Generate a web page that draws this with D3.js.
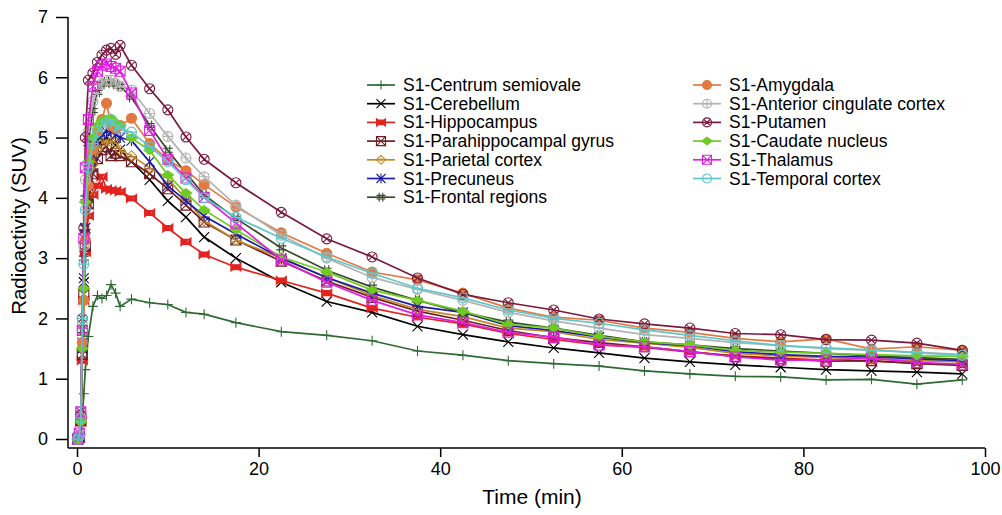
<!DOCTYPE html>
<html>
<head>
<meta charset="utf-8">
<script src="https://cdn.jsdelivr.net/npm/d3@7/dist/d3.min.js"></script>
<style>
  body { margin: 0; background: #fff; }
  svg text { font-family: "Liberation Sans", Arial, Helvetica, sans-serif; fill: #000; }
</style>
</head>
<body>
<div id="chart"></div>
<script>
// Frame mid-times (min)
const times = [0.083, 0.25, 0.417, 0.583, 0.75, 0.917, 1.25, 1.75, 2.25, 2.75, 3.25, 3.75, 4.25, 4.75,
  6, 8, 10, 12, 14, 17.5, 22.5, 27.5, 32.5, 37.5, 42.5, 47.5, 52.5, 57.5, 62.5, 67.5, 72.5, 77.5, 82.5, 87.5, 92.5, 97.5]

const centrum = [0.0, 0.02, 0.08, 0.35, 0.75, 1.15, 1.7, 2.2, 2.38, 2.33, 2.38, 2.56, 2.42, 2.2,
  2.32, 2.26, 2.23, 2.1, 2.07, 1.93, 1.78, 1.72, 1.63, 1.46, 1.39, 1.3, 1.25, 1.21, 1.13, 1.08, 1.04, 1.03, 0.98, 0.99, 0.91, 0.98]
const cerebellum = [0.0, 0.03, 0.3, 1.5, 2.6, 3.4, 4.0, 4.5, 4.8, 4.95, 5.0, 4.95, 4.88, 4.8,
  4.6, 4.3, 3.95, 3.68, 3.35, 3.0, 2.6, 2.28, 2.1, 1.87, 1.73, 1.61, 1.51, 1.43, 1.34, 1.28, 1.23, 1.19, 1.15, 1.13, 1.11, 1.08]
const hippocampus = [0.0, 0.04, 0.3, 1.3, 2.3, 3.1, 3.7, 4.05, 4.2, 4.35, 4.15, 4.13, 4.12, 4.1,
  3.99, 3.75, 3.5, 3.27, 3.06, 2.85, 2.63, 2.42, 2.17, 2.02, 1.91, 1.75, 1.65, 1.56, 1.52, 1.44, 1.38, 1.34, 1.31, 1.29, 1.26, 1.23]
const parahippocampal = [0.0, 0.03, 0.3, 1.4, 2.4, 3.2, 3.9, 4.4, 4.65, 4.8, 4.85, 4.7, 4.74, 4.7,
  4.6, 4.4, 4.15, 3.88, 3.6, 3.3, 2.95, 2.62, 2.35, 2.12, 1.97, 1.8, 1.68, 1.6, 1.53, 1.45, 1.37, 1.33, 1.29, 1.3, 1.25, 1.22]
const parietal = [0.0, 0.03, 0.3, 1.5, 2.5, 3.4, 4.1, 4.55, 4.8, 4.9, 4.95, 4.93, 4.93, 4.79,
  4.7, 4.5, 4.32, 3.98, 3.62, 3.3, 3.0, 2.68, 2.38, 2.15, 2.03, 1.84, 1.78, 1.65, 1.59, 1.52, 1.42, 1.38, 1.35, 1.33, 1.3, 1.28]
const precuneus = [0.0, 0.03, 0.35, 1.6, 2.67, 3.5, 4.2, 4.7, 4.95, 5.05, 5.1, 5.1, 5.05, 5.0,
  4.95, 4.6, 4.2, 3.95, 3.7, 3.4, 3.0, 2.68, 2.42, 2.2, 2.1, 1.88, 1.8, 1.69, 1.6, 1.55, 1.45, 1.4, 1.37, 1.36, 1.33, 1.3]
const frontal = [0.0, 0.05, 0.4, 1.8, 3.0, 4.0, 4.9, 5.45, 5.75, 5.88, 5.92, 5.9, 5.88, 5.85,
  5.67, 5.2, 4.79, 4.41, 4.05, 3.66, 3.17, 2.8, 2.52, 2.3, 2.1, 1.94, 1.84, 1.72, 1.61, 1.56, 1.5, 1.46, 1.42, 1.38, 1.35, 1.32]
const amygdala = [0.0, 0.05, 0.4, 1.6, 2.3, 3.3, 4.2, 4.8, 5.1, 5.3, 5.57, 5.2, 5.15, 5.2,
  5.32, 4.9, 4.63, 4.45, 4.22, 3.85, 3.42, 3.08, 2.77, 2.64, 2.42, 2.17, 2.02, 1.97, 1.84, 1.77, 1.67, 1.61, 1.66, 1.49, 1.53, 1.47]
const cingulate = [0.0, 0.05, 0.45, 1.9, 3.2, 4.3, 5.1, 5.6, 5.8, 5.9, 5.95, 5.95, 5.9, 5.85,
  5.79, 5.4, 5.02, 4.66, 4.35, 3.88, 3.38, 3.0, 2.68, 2.48, 2.3, 2.1, 1.96, 1.84, 1.73, 1.67, 1.6, 1.55, 1.5, 1.47, 1.44, 1.4]
const putamen = [0.0, 0.05, 0.4, 2.0, 3.5, 5.0, 5.95, 6.07, 6.25, 6.37, 6.45, 6.48, 6.38, 6.53,
  6.2, 5.81, 5.46, 5.01, 4.64, 4.25, 3.76, 3.32, 3.02, 2.67, 2.4, 2.26, 2.14, 1.99, 1.91, 1.84, 1.75, 1.73, 1.65, 1.64, 1.59, 1.47]
const caudate = [0.0, 0.05, 0.28, 1.5, 2.5, 3.93, 4.6, 5.0, 5.2, 5.28, 5.3, 5.32, 5.25, 5.2,
  4.99, 4.79, 4.38, 4.08, 3.8, 3.47, 3.02, 2.77, 2.47, 2.3, 2.12, 1.9, 1.84, 1.7, 1.61, 1.56, 1.47, 1.44, 1.42, 1.4, 1.38, 1.37]
const thalamus = [0.0, 0.1, 0.45, 1.8, 3.33, 4.5, 5.3, 5.85, 6.1, 6.2, 6.22, 6.18, 6.15, 6.1,
  5.74, 5.12, 4.64, 4.33, 4.01, 3.58, 2.97, 2.6, 2.3, 2.06, 1.93, 1.77, 1.69, 1.56, 1.53, 1.45, 1.36, 1.31, 1.31, 1.34, 1.27, 1.24]
const temporal = [0.0, 0.05, 0.35, 2.0, 2.9, 3.8, 4.5, 4.9, 5.1, 5.2, 5.25, 5.3, 5.2, 5.15,
  5.09, 4.85, 4.6, 4.3, 4.0, 3.68, 3.33, 3.02, 2.75, 2.5, 2.34, 2.14, 2.0, 1.92, 1.81, 1.72, 1.63, 1.55, 1.51, 1.48, 1.43, 1.39]

const names = ["S1-Centrum semiovale", "S1-Cerebellum", "S1-Hippocampus", "S1-Parahippocampal gyrus",
  "S1-Parietal cortex", "S1-Precuneus", "S1-Frontal regions", "S1-Amygdala", "S1-Anterior cingulate cortex",
  "S1-Putamen", "S1-Caudate nucleus", "S1-Thalamus", "S1-Temporal cortex"]
const values = [centrum, cerebellum, hippocampus, parahippocampal, parietal, precuneus, frontal,
  amygdala, cingulate, putamen, caudate, thalamus, temporal]
const colors = ["#2f6a33", "#000000", "#e3231f", "#6e1f24", "#c48a22", "#1c1ca8", "#3b4a2a",
  "#e17a42", "#b3b3b3", "#7a1a3e", "#6fca22", "#e020e0", "#5fc6c9"]
const markers = ["plus", "cross", "bowtie", "sqhour", "diamond", "star", "hash",
  "disc", "circplus", "circx", "fdiamond", "sqx", "circbar"]

const xTicks = [0, 20, 40, 60, 80, 100]
const yTicks = [0, 1, 2, 3, 4, 5, 6, 7]

const W = 1002, H = 515

const svg = d3.select("#chart").append("svg")
  .attr("width", W).attr("height", H)

const x = d3.scaleLinear().domain([0, 100]).range([77, 985])
const y = d3.scaleLinear().domain([0, 7]).range([439, 17])

// marker shapes, r = half size
function markerPath(type, r) {
  const p = d3.path()
  const circ = () => { p.moveTo(r, 0); p.arc(0, 0, r, 0, 2 * Math.PI) }
  if (type === "plus") {
    p.moveTo(-r, 0); p.lineTo(r, 0); p.moveTo(0, -r); p.lineTo(0, r)
  } else if (type === "cross") {
    p.moveTo(-r, -r); p.lineTo(r, r); p.moveTo(-r, r); p.lineTo(r, -r)
  } else if (type === "bowtie") {
    p.moveTo(-r, -r * 0.8); p.lineTo(r, r * 0.8); p.lineTo(r, -r * 0.8); p.lineTo(-r, r * 0.8); p.closePath()
    p.moveTo(-r * 0.5, -r * 0.5); p.lineTo(r * 0.5, -r * 0.5); p.lineTo(r * 0.5, r * 0.5); p.lineTo(-r * 0.5, r * 0.5); p.closePath()
  } else if (type === "sqhour") {
    p.rect(-r, -r, 2 * r, 2 * r)
    p.moveTo(-r, -r); p.lineTo(r, r); p.lineTo(-r, r); p.lineTo(r, -r)
  } else if (type === "diamond") {
    p.moveTo(0, -r); p.lineTo(r, 0); p.lineTo(0, r); p.lineTo(-r, 0); p.closePath()
    p.moveTo(0, -r * 0.4); p.lineTo(0, r * 0.4)
  } else if (type === "star") {
    p.moveTo(-r, -r); p.lineTo(r, r); p.moveTo(-r, r); p.lineTo(r, -r)
    p.moveTo(0, -r * 1.1); p.lineTo(0, r * 1.1)
  } else if (type === "hash") {
    const a = r * 0.4
    p.moveTo(-a, -r); p.lineTo(-a, r); p.moveTo(a, -r); p.lineTo(a, r)
    p.moveTo(-r, -a); p.lineTo(r, -a); p.moveTo(-r, a); p.lineTo(r, a)
  } else if (type === "disc") {
    circ()
  } else if (type === "circplus") {
    circ(); p.moveTo(-r, 0); p.lineTo(r, 0); p.moveTo(0, -r); p.lineTo(0, r)
  } else if (type === "circx") {
    circ(); const a = r * 0.7
    p.moveTo(-a, -a); p.lineTo(a, a); p.moveTo(-a, a); p.lineTo(a, -a)
  } else if (type === "fdiamond") {
    p.moveTo(0, -r * 0.85); p.lineTo(r * 1.15, 0); p.lineTo(0, r * 0.85); p.lineTo(-r * 1.15, 0); p.closePath()
  } else if (type === "sqx") {
    p.rect(-r, -r, 2 * r, 2 * r)
    p.moveTo(-r, -r); p.lineTo(r, r); p.moveTo(-r, r); p.lineTo(r, -r)
  } else if (type === "circbar") {
    circ(); p.moveTo(-r, 0); p.lineTo(r, 0)
  }
  return p.toString()
}
const filled = { disc: true, fdiamond: true, bowtie: true }

// Axes
const gx = svg.append("g").attr("transform", "translate(0,448)")
  .call(d3.axisBottom(x).tickValues(xTicks).tickSize(9).tickPadding(5).tickFormat(d3.format("d")))
gx.select(".domain").remove()
gx.selectAll("line").attr("stroke", "#000").attr("stroke-width", 1.5)
gx.selectAll("text").attr("font-size", 18).attr("font-family", "Liberation Sans, Arial, sans-serif")

const gy = svg.append("g").attr("transform", "translate(68,0)")
  .call(d3.axisLeft(y).tickValues(yTicks).tickSize(12).tickPadding(8).tickFormat(d3.format("d")))
gy.select(".domain").remove()
gy.selectAll("line").attr("stroke", "#000").attr("stroke-width", 1.5)
gy.selectAll("text").attr("font-size", 18).attr("font-family", "Liberation Sans, Arial, sans-serif")

svg.append("line").attr("x1", 68).attr("x2", 68).attr("y1", y(7)).attr("y2", 448)
  .attr("stroke", "#000").attr("stroke-width", 1.5)
svg.append("line").attr("x1", 68).attr("x2", x(100)).attr("y1", 448).attr("y2", 448)
  .attr("stroke", "#000").attr("stroke-width", 1.5)

// Axis titles
svg.append("text").attr("x", 532).attr("y", 504).attr("text-anchor", "middle")
  .attr("font-size", 21).text("Time (min)")
svg.append("text").attr("transform", "translate(26,226) rotate(-90)").attr("text-anchor", "middle")
  .attr("font-size", 20.5).text("Radioactivity (SUV)")

// Series
const line = d3.line().x(d => x(d[0])).y(d => y(d[1]))
const plot = svg.append("g")
values.forEach((vals, i) => {
  const pts = times.map((t, j) => [t, vals[j]])
  const g = plot.append("g")
  g.append("path").attr("d", line(pts)).attr("fill", "none")
    .attr("stroke", colors[i]).attr("stroke-width", 1.7)
  g.selectAll("path.m").data(pts).enter().append("path").attr("class", "m")
    .attr("transform", d => `translate(${x(d[0])},${y(d[1])})`)
    .attr("d", markerPath(markers[i], 5))
    .attr("fill", filled[markers[i]] ? colors[i] : "none")
    .attr("stroke", colors[i]).attr("stroke-width", 1.1)
})

// Legend
const legend = svg.append("g")
names.forEach((n, i) => {
  const col = i < 7 ? 0 : 1
  const row = i < 7 ? i : i - 7
  const lx = col === 0 ? 367 : 693
  const ly = 85 + row * 18.7
  const g = legend.append("g").attr("transform", `translate(${lx},${ly})`)
  g.append("line").attr("x1", 0).attr("x2", 28).attr("stroke", colors[i]).attr("stroke-width", 1.7)
  g.append("path").attr("transform", "translate(14,0)").attr("d", markerPath(markers[i], 4.5))
    .attr("fill", filled[markers[i]] ? colors[i] : "none")
    .attr("stroke", colors[i]).attr("stroke-width", 1.1)
  g.append("text").attr("x", 36).attr("y", 6).attr("font-size", 17.5).text(n)
})
</script>
</body>
</html>
